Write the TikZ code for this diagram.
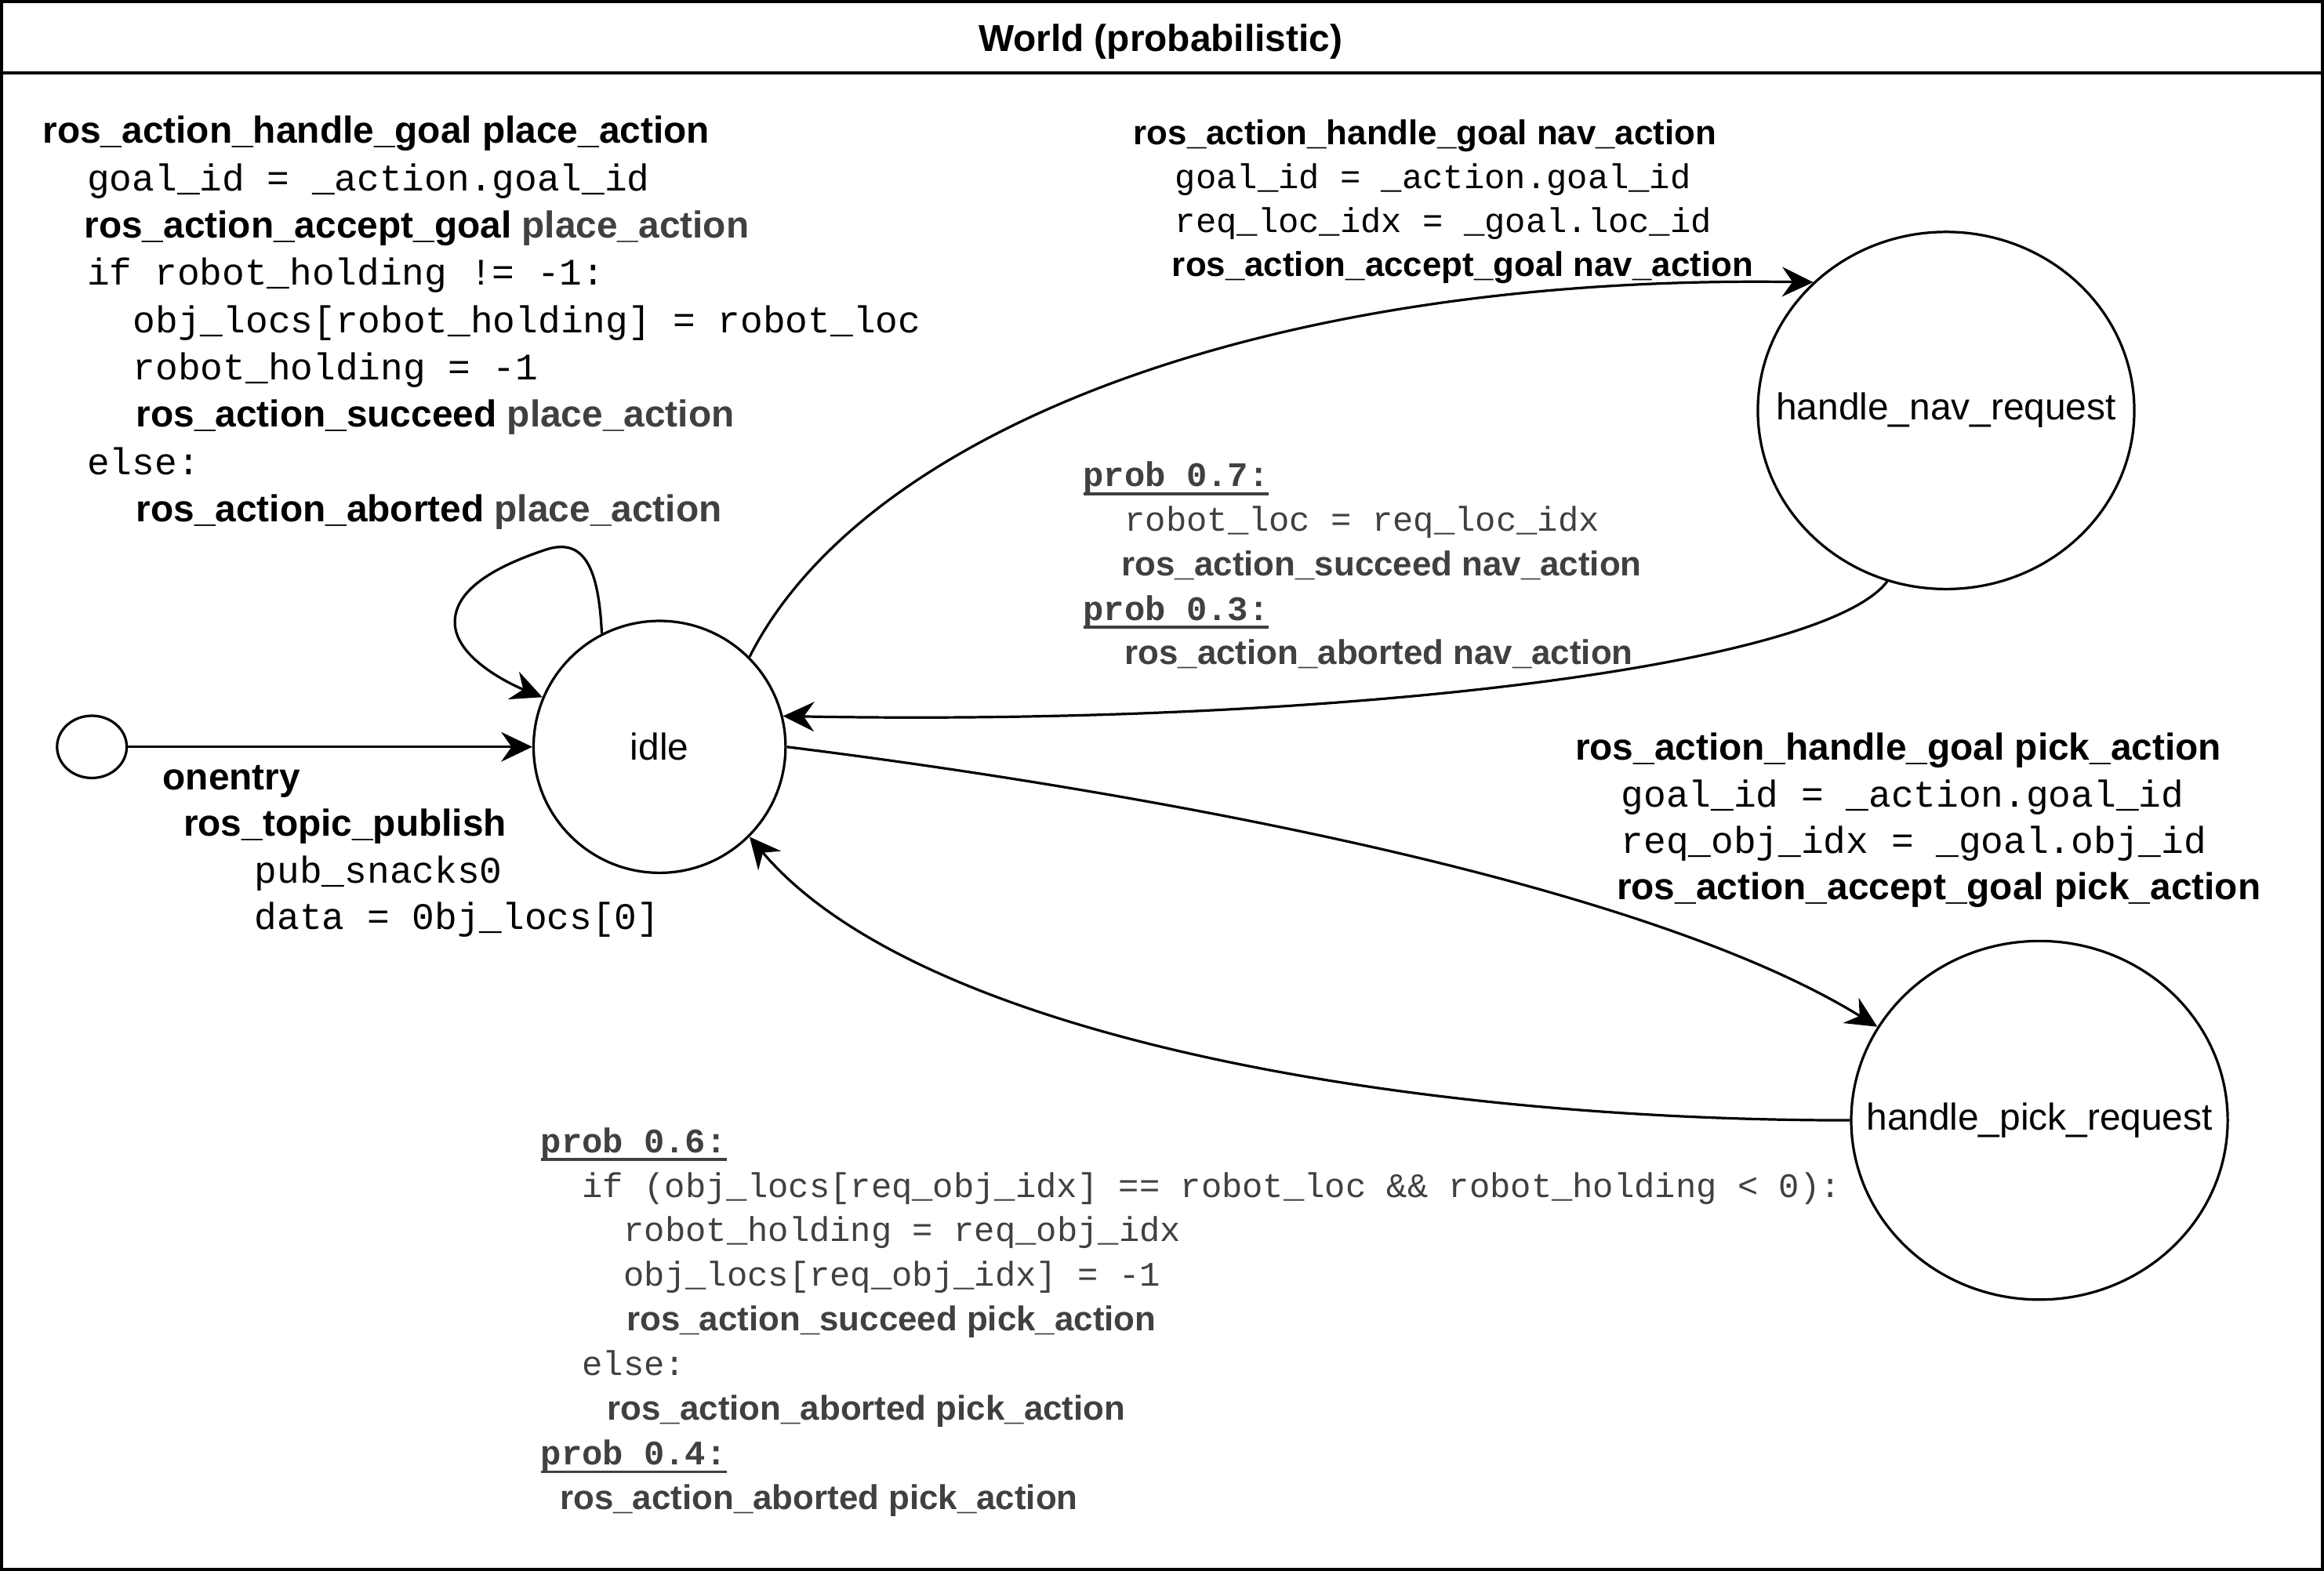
\documentclass[tikz,border=0pt]{standalone}
\usepackage{fontspec}
\setmainfont{Liberation Sans}
\setmonofont{Liberation Mono}
\usetikzlibrary{arrows.meta, shapes.geometric}

\definecolor{txtgray}{HTML}{404040}
\newcommand{\ind}[1]{\hspace*{#1pt}}
\newcommand{\code}[1]{{\ttfamily #1}}
\newcommand{\prob}[1]{\setbox0=\hbox{\ttfamily\bfseries #1}\rlap{\rule[-2.8pt]{\wd0}{0.9pt}}\box0}

\begin{document}
\begin{tikzpicture}[
   x=0.5pt, y=-0.5pt,
   line width=0.85pt,
   -{Stealth[length=10.5pt, width=10pt, inset=3.5pt]},
   stnode/.style = {draw, ellipse, inner sep=0pt, font=\fontsize{12.65}{15}\selectfont},
   lbl/.style = {anchor=base west, align=left, inner sep=0pt},
   bigtxt/.style = {font=\fontsize{12.65}{#1}\selectfont},
   smalltxt/.style = {font=\fontsize{11.6}{#1}\selectfont}]
   \useasboundingbox (0,0) rectangle (1568,1060);

   % frame and title
   \draw[-, line width=1pt] (1,1) rectangle (1567,1059);
   \draw[-, line width=1pt] (1,49) -- (1567,49);
   \node[font=\fontsize{12.65}{15}\selectfont\bfseries] (title) at (783,28) {World (probabilistic)};

   % states
   \node[stnode, minimum width=23.5pt, minimum height=21pt] (init) at (62,504) {};
   \node[stnode, circle, minimum size=85pt] (idle) at (445,504) {idle};
   \node[stnode, minimum width=127pt, minimum height=120.5pt] (nav) at (1313,277) {\makebox[0pt]{handle\_nav\_request}};
   \node[stnode, minimum width=127pt, minimum height=121pt] (pick) at (1376,756) {\makebox[0pt]{handle\_pick\_request}};

   % transitions
   \draw (init) -- (idle);
   \draw (idle.117) .. controls (404,385) and (395,362) .. (368,371)
                    .. controls (335,382) and (305,398) .. (307,422)
                    .. controls (309,445) and (345,462) .. (idle.157);
   \draw (idle.45) .. controls (582,292) and (850,185) .. (nav.136.6);
   \draw (nav.251.4) .. controls (1230,450) and (900,490) .. (idle.14.2);
   \draw (idle.east) .. controls (740,530) and (1100,590) .. (pick.150);
   \draw (pick.west) .. controls (950,756) and (620,700) .. (idle.315);

   % labels (anchored on the baseline of the last line)
   \node[lbl, bigtxt=15.95] (placelbl) at (28,352) {%
     \textbf{ros\_action\_handle\_goal place\_action}\\
     \ind{15}\code{goal\_id = \_action.goal\_id}\\
     \ind{14}\textbf{ros\_action\_accept\_goal \textcolor{txtgray}{place\_action}}\\
     \ind{15}\code{if robot\_holding != -1:}\\
     \ind{30.5}\code{obj\_locs[robot\_holding] = robot\_loc}\\
     \ind{30.5}\code{robot\_holding = -1}\\
     \ind{31.5}\textbf{ros\_action\_succeed \textcolor{txtgray}{place\_action}}\\
     \ind{15}\code{else:}\\
     \ind{31.5}\textbf{ros\_action\_aborted \textcolor{txtgray}{place\_action}}};

   \node[lbl, bigtxt=15.65] (entrylbl) at (109,627) {%
     \textbf{onentry}\\
     \ind{7}\textbf{ros\_topic\_publish}\\
     \ind{31}\code{pub\_snacks0}\\
     \ind{31}\code{data = 0bj\_locs[0]}};

   \node[lbl, smalltxt=14.85] (navlbl) at (764,186.5) {%
     \textbf{ros\_action\_handle\_goal nav\_action}\\
     \ind{14}\code{goal\_id = \_action.goal\_id}\\
     \ind{14}\code{req\_loc\_idx = \_goal.loc\_id}\\
     \ind{13}\textbf{ros\_action\_accept\_goal nav\_action}};

   \node[lbl, smalltxt=15, text=txtgray] (navret) at (730,448.5) {%
     \prob{prob 0.7:}\\
     \ind{14}\code{robot\_loc = req\_loc\_idx}\\
     \ind{13}\textbf{ros\_action\_succeed nav\_action}\\
     \prob{prob 0.3:}\\
     \ind{14}\textbf{ros\_action\_aborted nav\_action}};

   \node[lbl, bigtxt=15.65] (picklbl) at (1062,607) {%
     \textbf{ros\_action\_handle\_goal pick\_action}\\
     \ind{15.5}\code{goal\_id = \_action.goal\_id}\\
     \ind{15.5}\code{req\_obj\_idx = \_goal.obj\_id}\\
     \ind{14}\textbf{ros\_action\_accept\_goal pick\_action}};

   \node[lbl, smalltxt=15.05, text=txtgray] (pickret) at (364,1018.5) {%
     \prob{prob 0.6:}\\
     \ind{14}\code{if (obj\_locs[req\_obj\_idx] == robot\_loc \&\& robot\_holding < 0):}\\
     \ind{28}\code{robot\_holding = req\_obj\_idx}\\
     \ind{28}\code{obj\_locs[req\_obj\_idx] = -1}\\
     \ind{29}\textbf{ros\_action\_succeed pick\_action}\\
     \ind{14}\code{else:}\\
     \ind{22.5}\textbf{ros\_action\_aborted pick\_action}\\
     \prob{prob 0.4:}\\
     \ind{6.5}\textbf{ros\_action\_aborted pick\_action}};
\end{tikzpicture}
\end{document}
